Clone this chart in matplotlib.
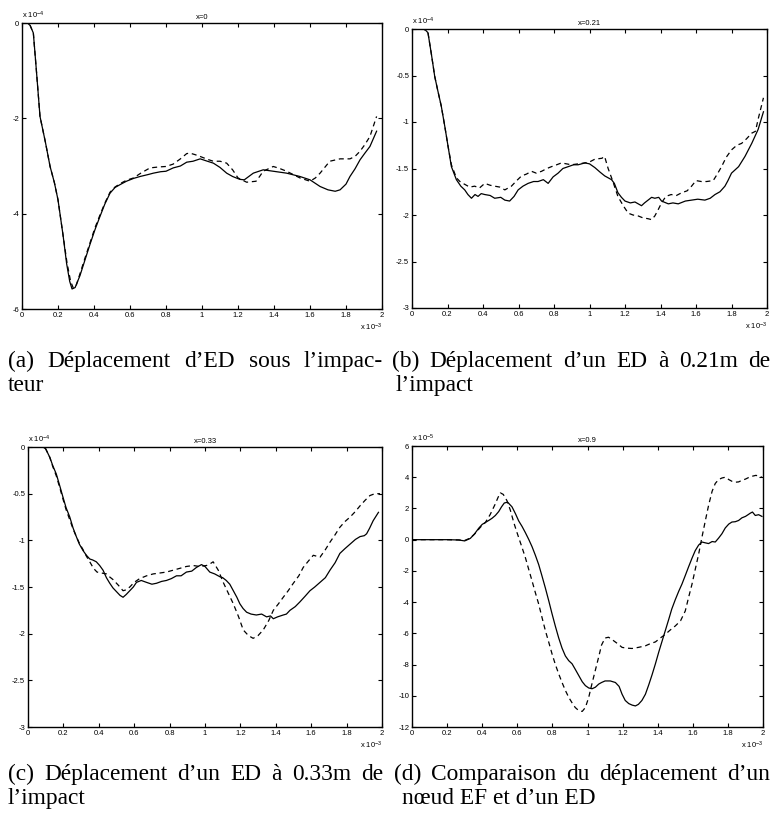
import numpy as np
import matplotlib
matplotlib.use("Agg")
import matplotlib.pyplot as plt
from matplotlib.ticker import FuncFormatter

plt.rcParams['font.family'] = ['Liberation Sans', 'DejaVu Sans']
plt.rcParams['mathtext.fontset'] = 'custom'
plt.rcParams['mathtext.rm'] = 'Liberation Sans'
plt.rcParams['mathtext.default'] = 'regular'

# temps en 1e-3 s, deplacement en 1e-4 m (a, b, c) et 1e-5 m (d)
# (a) x=0
t_a_ed = [0, 0.03, 0.045, 0.063, 0.08, 0.1, 0.13, 0.156, 0.18, 0.2, 0.228, 0.248, 0.265, 0.278,
          0.295, 0.322, 0.35, 0.378, 0.405, 0.433, 0.46, 0.489, 0.517, 0.55, 0.58, 0.62, 0.656,
          0.7, 0.73, 0.77, 0.8, 0.84, 0.88, 0.915, 0.95, 0.99, 1.03, 1.063, 1.1, 1.137, 1.17,
          1.21, 1.235, 1.285, 1.34, 1.396, 1.47, 1.544, 1.6, 1.656, 1.7, 1.74, 1.767, 1.8,
          1.822, 1.85, 1.878, 1.905, 1.933, 1.97]
u_a_ed = [0, 0, -0.05, -0.21, -1.0, -1.96, -2.5, -3.01, -3.35, -3.71, -4.45, -5.05, -5.42, -5.58,
          -5.55, -5.3, -4.97, -4.64, -4.34, -4.06, -3.8, -3.57, -3.45, -3.38, -3.32, -3.26, -3.22,
          -3.18, -3.15, -3.12, -3.11, -3.04, -3.0, -2.92, -2.9, -2.85, -2.9, -2.94, -3.03, -3.15,
          -3.22, -3.28, -3.29, -3.15, -3.08, -3.11, -3.15, -3.22, -3.29, -3.43, -3.5, -3.53, -3.5,
          -3.38, -3.22, -3.06, -2.87, -2.73, -2.59, -2.27]
t_a_ef = [0, 0.03, 0.045, 0.063, 0.08, 0.1, 0.13, 0.156, 0.18, 0.2, 0.228, 0.25, 0.27, 0.285,
          0.3, 0.322, 0.35, 0.378, 0.405, 0.433, 0.46, 0.489, 0.517, 0.55, 0.58, 0.62, 0.66, 0.711,
          0.76, 0.8, 0.84, 0.88, 0.915, 0.933, 0.96, 0.99, 1.03, 1.063, 1.1, 1.137, 1.17, 1.2,
          1.248, 1.3, 1.32, 1.34, 1.396, 1.43, 1.47, 1.544, 1.6, 1.63, 1.656, 1.71, 1.767, 1.822,
          1.85, 1.878, 1.905, 1.933, 1.97]
u_a_ef = [0, 0, -0.05, -0.21, -1.0, -1.96, -2.5, -3.01, -3.35, -3.71, -4.45, -5.03, -5.42, -5.56,
          -5.52, -5.26, -4.93, -4.61, -4.3, -4.03, -3.78, -3.55, -3.44, -3.36, -3.3, -3.25, -3.15,
          -3.04, -3.02, -3.01, -2.96, -2.85, -2.74, -2.73, -2.76, -2.8, -2.86, -2.9, -2.9, -2.94,
          -3.08, -3.25, -3.34, -3.32, -3.22, -3.11, -3.01, -3.05, -3.11, -3.25, -3.32, -3.25,
          -3.15, -2.9, -2.85, -2.85, -2.8, -2.69, -2.55, -2.38, -1.96]

# (b) x=0.21
t_b_ed = [0, 0.062, 0.075, 0.09, 0.11, 0.128, 0.145, 0.165, 0.185, 0.203, 0.222, 0.25, 0.275,
          0.297, 0.315, 0.335, 0.355, 0.372, 0.39, 0.41, 0.44, 0.466, 0.5, 0.523, 0.55, 0.575,
          0.598, 0.625, 0.654, 0.685, 0.71, 0.74, 0.767, 0.795, 0.823, 0.85, 0.88, 0.91, 0.936,
          0.974, 1.0, 1.03, 1.06, 1.086, 1.124, 1.14, 1.16, 1.18, 1.2, 1.23, 1.256, 1.293, 1.31,
          1.33, 1.35, 1.368, 1.39, 1.406, 1.444, 1.47, 1.5, 1.54, 1.575, 1.61, 1.65, 1.68, 1.707,
          1.735, 1.763, 1.78, 1.8, 1.84, 1.876, 1.914, 1.95, 1.98]
u_b_ed = [0, 0, -0.01, -0.04, -0.28, -0.51, -0.66, -0.83, -1.05, -1.26, -1.48, -1.62, -1.69,
          -1.73, -1.78, -1.82, -1.78, -1.8, -1.77, -1.78, -1.79, -1.82, -1.81, -1.84, -1.85,
          -1.8, -1.73, -1.69, -1.66, -1.64, -1.64, -1.62, -1.66, -1.59, -1.55, -1.5, -1.48,
          -1.46, -1.46, -1.44, -1.45, -1.49, -1.54, -1.58, -1.62, -1.66, -1.76, -1.81, -1.85,
          -1.87, -1.86, -1.9, -1.87, -1.84, -1.81, -1.82, -1.81, -1.85, -1.88, -1.87, -1.88,
          -1.85, -1.84, -1.83, -1.84, -1.82, -1.78, -1.75, -1.69, -1.63, -1.55, -1.48, -1.37,
          -1.23, -1.08, -0.89]
t_b_ef = [0, 0.062, 0.075, 0.09, 0.11, 0.128, 0.145, 0.165, 0.185, 0.203, 0.222, 0.25, 0.275,
          0.297, 0.325, 0.353, 0.38, 0.41, 0.44, 0.466, 0.495, 0.523, 0.56, 0.59, 0.617, 0.645,
          0.673, 0.7, 0.73, 0.76, 0.786, 0.815, 0.842, 0.87, 0.898, 0.936, 0.974, 1.0, 1.03,
          1.07, 1.085, 1.105, 1.13, 1.16, 1.19, 1.218, 1.245, 1.274, 1.3, 1.33, 1.35, 1.368,
          1.385, 1.406, 1.43, 1.46, 1.49, 1.52, 1.55, 1.575, 1.6, 1.63, 1.66, 1.697, 1.72, 1.744,
          1.77, 1.8, 1.83, 1.857, 1.885, 1.914, 1.935, 1.95, 1.98]
u_b_ef = [0, 0, -0.01, -0.04, -0.28, -0.51, -0.66, -0.83, -1.05, -1.26, -1.46, -1.6, -1.65,
          -1.67, -1.7, -1.69, -1.71, -1.66, -1.68, -1.69, -1.7, -1.73, -1.69, -1.63, -1.58,
          -1.56, -1.53, -1.55, -1.53, -1.5, -1.48, -1.46, -1.44, -1.45, -1.46, -1.45, -1.44,
          -1.43, -1.4, -1.39, -1.37, -1.5, -1.63, -1.8, -1.9, -1.98, -2.0, -2.01, -2.03, -2.04,
          -2.05, -2.01, -1.95, -1.87, -1.8, -1.78, -1.79, -1.76, -1.74, -1.69, -1.63, -1.64,
          -1.64, -1.63, -1.56, -1.48, -1.38, -1.3, -1.25, -1.23, -1.18, -1.12, -1.1, -0.97, -0.74]

# (c) x=0.33
t_c_ed = [0, 0.085, 0.1, 0.123, 0.14, 0.16, 0.18, 0.198, 0.215, 0.236, 0.255, 0.273, 0.29, 0.311,
          0.33, 0.349, 0.365, 0.386, 0.405, 0.424, 0.443, 0.462, 0.48, 0.5, 0.52, 0.537, 0.555,
          0.575, 0.595, 0.613, 0.64, 0.669, 0.7, 0.726, 0.755, 0.782, 0.81, 0.839, 0.865, 0.895,
          0.925, 0.952, 0.98, 1.0, 1.027, 1.055, 1.084, 1.1, 1.12, 1.14, 1.16, 1.18, 1.197, 1.215,
          1.235, 1.26, 1.29, 1.32, 1.348, 1.37, 1.386, 1.41, 1.442, 1.46, 1.48, 1.51, 1.536,
          1.565, 1.593, 1.62, 1.65, 1.68, 1.706, 1.735, 1.762, 1.79, 1.82, 1.85, 1.876, 1.9,
          1.913, 1.93, 1.95, 1.98]
u_c_ed = [0, 0, -0.02, -0.11, -0.2, -0.29, -0.42, -0.54, -0.65, -0.75, -0.87, -0.96, -1.04,
          -1.11, -1.16, -1.2, -1.21, -1.23, -1.27, -1.32, -1.4, -1.46, -1.51, -1.55, -1.59,
          -1.61, -1.58, -1.54, -1.5, -1.45, -1.43, -1.45, -1.47, -1.46, -1.44, -1.43, -1.41,
          -1.38, -1.38, -1.34, -1.33, -1.29, -1.26, -1.28, -1.34, -1.36, -1.39, -1.4, -1.43,
          -1.47, -1.54, -1.61, -1.68, -1.73, -1.77, -1.79, -1.8, -1.79, -1.82, -1.81, -1.84,
          -1.82, -1.8, -1.79, -1.75, -1.71, -1.66, -1.6, -1.54, -1.5, -1.45, -1.4, -1.32, -1.24,
          -1.14, -1.09, -1.04, -0.99, -0.96, -0.95, -0.93, -0.87, -0.79, -0.7]
t_c_ef = [0, 0.085, 0.1, 0.123, 0.14, 0.16, 0.18, 0.198, 0.215, 0.236, 0.255, 0.273, 0.29, 0.311,
          0.33, 0.349, 0.37, 0.39, 0.415, 0.443, 0.46, 0.48, 0.51, 0.537, 0.555, 0.575, 0.6,
          0.631, 0.67, 0.707, 0.745, 0.782, 0.82, 0.858, 0.895, 0.933, 0.97, 1.008, 1.03, 1.046,
          1.075, 1.103, 1.13, 1.16, 1.19, 1.216, 1.245, 1.272, 1.3, 1.329, 1.36, 1.386, 1.415,
          1.442, 1.47, 1.499, 1.53, 1.555, 1.585, 1.612, 1.63, 1.65, 1.68, 1.706, 1.735, 1.762,
          1.79, 1.82, 1.85, 1.876, 1.905, 1.932, 1.96, 1.989]
u_c_ef = [0, 0, -0.02, -0.11, -0.21, -0.31, -0.44, -0.56, -0.67, -0.78, -0.88, -0.96, -1.03,
          -1.1, -1.17, -1.23, -1.3, -1.34, -1.35, -1.36, -1.39, -1.42, -1.48, -1.54, -1.53, -1.5,
          -1.45, -1.41, -1.38, -1.36, -1.35, -1.34, -1.32, -1.3, -1.28, -1.27, -1.28, -1.27,
          -1.25, -1.23, -1.32, -1.45, -1.56, -1.68, -1.82, -1.96, -2.02, -2.05, -2.02, -1.96,
          -1.86, -1.75, -1.68, -1.61, -1.54, -1.46, -1.38, -1.29, -1.22, -1.16, -1.17, -1.18,
          -1.1, -1.02, -0.94, -0.86, -0.8, -0.75, -0.69, -0.63, -0.57, -0.52, -0.5, -0.5]

# (d) x=0.9, comparaison EF / ED
t_d_ed = [0, 0.1, 0.2, 0.266, 0.3, 0.332, 0.355, 0.38, 0.4, 0.418, 0.44, 0.456, 0.475, 0.494,
          0.51, 0.526, 0.545, 0.57, 0.59, 0.608, 0.627, 0.646, 0.665, 0.684, 0.703, 0.722, 0.74,
          0.76, 0.78, 0.798, 0.817, 0.836, 0.855, 0.874, 0.893, 0.912, 0.93, 0.95, 0.97, 0.988,
          1.007, 1.026, 1.045, 1.064, 1.08, 1.1, 1.13, 1.159, 1.18, 1.197, 1.215, 1.235, 1.255,
          1.273, 1.29, 1.31, 1.33, 1.349, 1.368, 1.387, 1.406, 1.425, 1.444, 1.463, 1.48, 1.5,
          1.52, 1.538, 1.557, 1.576, 1.595, 1.614, 1.633, 1.652, 1.67, 1.69, 1.71, 1.728, 1.747,
          1.766, 1.785, 1.805, 1.823, 1.842, 1.861, 1.88, 1.9, 1.915, 1.928, 1.94, 1.956, 1.975,
          1.994]
u_d_ed = [0, 0, 0, -0.02, -0.08, 0.08, 0.35, 0.73, 0.98, 1.1, 1.25, 1.37, 1.55, 1.8, 2.1, 2.35,
          2.4, 2.1, 1.65, 1.2, 0.85, 0.45, 0.02, -0.45, -1.0, -1.6, -2.3, -3.1, -3.95, -4.75,
          -5.55, -6.3, -6.95, -7.45, -7.75, -7.95, -8.3, -8.7, -9.1, -9.35, -9.5, -9.55, -9.45,
          -9.25, -9.15, -9.05, -9.05, -9.15, -9.4, -9.9, -10.3, -10.5, -10.6, -10.65, -10.55,
          -10.3, -9.9, -9.3, -8.65, -7.95, -7.2, -6.5, -5.8, -5.1, -4.45, -3.85, -3.3, -2.85,
          -2.3, -1.74, -1.2, -0.7, -0.35, -0.15, -0.2, -0.25, -0.12, -0.15, 0.1, 0.38, 0.75,
          1.0, 1.13, 1.15, 1.23, 1.4, 1.49, 1.6, 1.7, 1.77, 1.55, 1.6, 1.49]
t_d_ef = [0, 0.1, 0.2, 0.27, 0.3, 0.332, 0.36, 0.39, 0.418, 0.445, 0.475, 0.49, 0.503, 0.52,
          0.541, 0.56, 0.58, 0.594, 0.608, 0.627, 0.646, 0.665, 0.684, 0.703, 0.722, 0.74, 0.76,
          0.78, 0.798, 0.817, 0.836, 0.855, 0.874, 0.893, 0.912, 0.93, 0.95, 0.97, 0.988, 1.007,
          1.026, 1.045, 1.064, 1.08, 1.1, 1.12, 1.14, 1.17, 1.197, 1.225, 1.254, 1.29, 1.33,
          1.36, 1.387, 1.415, 1.444, 1.47, 1.5, 1.53, 1.557, 1.576, 1.595, 1.614, 1.633, 1.652,
          1.671, 1.69, 1.71, 1.728, 1.747, 1.766, 1.785, 1.805, 1.823, 1.842, 1.861, 1.88, 1.9,
          1.918, 1.937, 1.96, 1.994]
u_d_ef = [0, 0, 0, -0.02, -0.05, 0.1, 0.4, 0.8, 1.1, 1.6, 2.3, 2.7, 3.0, 2.9, 2.5, 1.9, 1.1, 0.6,
          0.13, -0.5, -1.15, -1.9, -2.64, -3.4, -4.13, -4.95, -5.83, -6.6, -7.32, -8.0, -8.6,
          -9.15, -9.66, -10.1, -10.45, -10.75, -10.95, -11.0, -10.75, -10.1, -9.2, -8.35, -7.5,
          -6.75, -6.3, -6.25, -6.4, -6.65, -6.9, -6.95, -6.97, -6.9, -6.8, -6.65, -6.55, -6.3,
          -6.06, -5.8, -5.53, -5.2, -4.57, -3.7, -2.87, -1.9, -0.94, 0.15, 1.19, 2.2, 3.1, 3.6,
          3.85, 3.95, 4.0, 3.85, 3.74, 3.68, 3.7, 3.8, 3.88, 3.98, 4.06, 4.12, 4.0]

fig = plt.figure(figsize=(7.73, 8.16), dpi=100)
W, H = 773.0, 816.0


def box(left, top, right, bottom):
    return [left / W, 1 - bottom / H, (right - left) / W, (bottom - top) / H]


def panel(rect, t_ed, u_ed, t_ef, u_ef, yticks, yexp, title):
    ax = fig.add_axes(rect)
    ax.plot(t_ed, u_ed, color='black', lw=0.9)
    ax.plot(t_ef, u_ef, color='black', lw=0.9, ls=(0, (4, 3)))
    ax.set_xlim(0, 2)
    ax.set_ylim(yticks[0], yticks[-1])
    ax.set_xticks(np.arange(0, 2.01, 0.2))
    ax.set_yticks(yticks)
    fmt = FuncFormatter(lambda v, p: '%g' % round(v, 2))
    ax.xaxis.set_major_formatter(fmt)
    ax.yaxis.set_major_formatter(fmt)
    ax.tick_params(direction='in', length=3, width=0.8, labelsize=5.5, pad=2,
                   top=True, right=True)
    for s in ax.spines.values():
        s.set_linewidth(1.0)
    ax.set_title(title, fontsize=5.5, pad=3)
    ax.text(0.0, 1.008, r'x 10$^{%d}$' % yexp, transform=ax.transAxes, fontsize=5.5,
            ha='left', va='bottom')
    ax.text(1.0, -0.045, r'x 10$^{-3}$', transform=ax.transAxes, fontsize=5.5,
            ha='right', va='top')
    return ax


panel(box(22, 23, 382, 309), t_a_ed, u_a_ed, t_a_ef, u_a_ef, [-6, -4, -2, 0], -4, 'x=0')
panel(box(412, 29, 767, 308), t_b_ed, u_b_ed, t_b_ef, u_b_ef,
      [-3, -2.5, -2, -1.5, -1, -0.5, 0], -4, 'x=0.21')
panel(box(28, 447, 382, 727), t_c_ed, u_c_ed, t_c_ef, u_c_ef,
      [-3, -2.5, -2, -1.5, -1, -0.5, 0], -4, 'x=0.33')
panel(box(412, 446, 763, 727), t_d_ed, u_d_ed, t_d_ef, u_d_ef,
      list(range(-12, 7, 2)), -5, 'x=0.9')

# legendes des sous-figures, premiere ligne justifiee
cap = dict(family='Liberation Serif', fontsize=16.8, va='baseline', ha='left')
renderer = fig.canvas.get_renderer()


def justified(text, x0, x1, y):
    words = text.split(' ')
    objs = [fig.text(0, 1 - y / H, w, **cap) for w in words]
    widths = [o.get_window_extent(renderer).width for o in objs]
    gap = ((x1 - x0) - sum(widths)) / (len(words) - 1)
    pos = x0
    for o, w in zip(objs, widths):
        o.set_x(pos / W)
        pos += w + gap


justified('(a) Déplacement d’ED sous l’impac-', 8, 383, 367)
fig.text(8 / W, 1 - 391 / H, 'teur', **cap)
justified('(b) Déplacement d’un ED à 0.21m de', 392, 770, 367)
fig.text(396 / W, 1 - 391 / H, 'l’impact', **cap)
justified('(c) Déplacement d’un ED à 0.33m de', 8, 383, 780)
fig.text(8 / W, 1 - 804 / H, 'l’impact', **cap)
justified('(d) Comparaison du déplacement d’un', 394, 770, 780)
fig.text(402 / W, 1 - 804 / H, 'nœud EF et d’un ED', **cap)

fig.savefig('out.png', dpi=100)
